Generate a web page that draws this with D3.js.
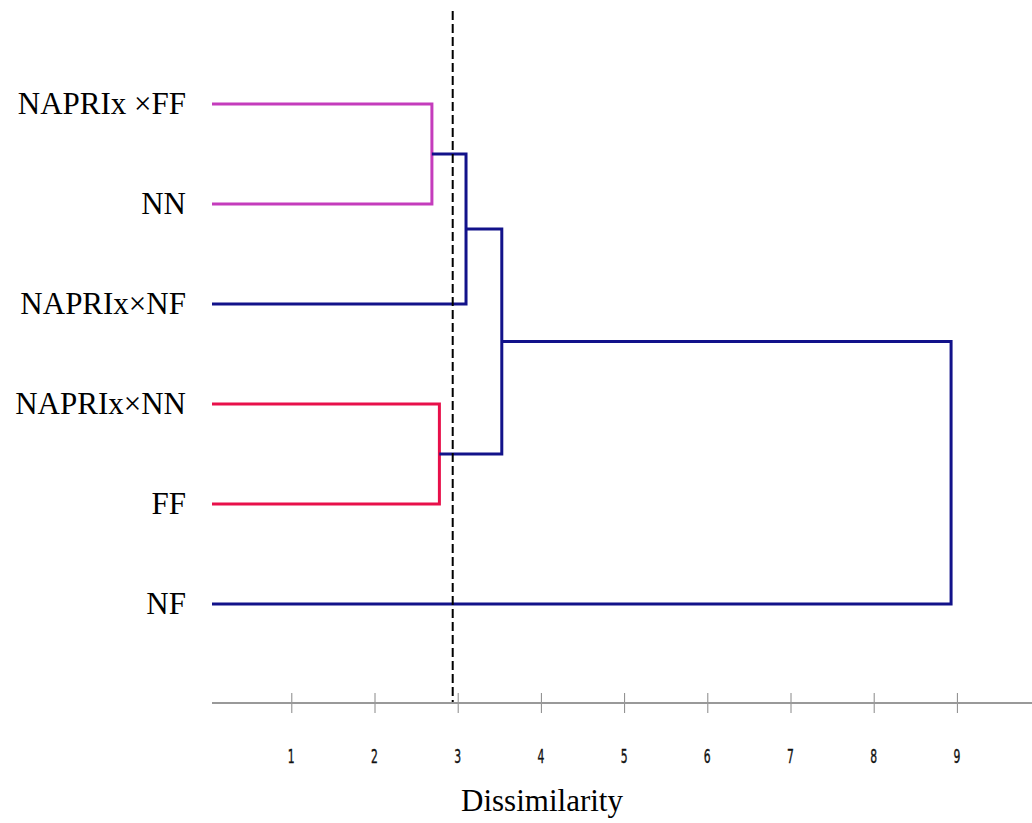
<!DOCTYPE html>
<html>
<head>
<meta charset="utf-8">
<script src="https://cdn.jsdelivr.net/npm/d3@7"></script>
<style>
  body { margin: 0; background: #fff; }
  .ticklab { font-family: "DejaVu Sans Condensed", "DejaVu Sans", sans-serif; font-size: 20px; fill: #111; }
</style>
</head>
<body>
<div id="chart"></div>
<script>
// Leaves, top to bottom
const leaves = ['NAPRIx \u00d7FF', 'NN', 'NAPRIx\u00d7NF', 'NAPRIx\u00d7NN', 'FF', 'NF'];
// Merges: [child a, child b, dissimilarity, cluster]; node ids 0-5 are leaves, 6+ are merges
const merges = [
  [0, 1, 2.69, 'pink'],
  [6, 2, 3.10, 'navy'],
  [3, 4, 2.78, 'red'],
  [7, 8, 3.53, 'navy'],
  [9, 5, 8.93, 'navy']
];
const cutOff = 2.94;
const tickValues = [1, 2, 3, 4, 5, 6, 7, 8, 9];
const axisTitle = 'Dissimilarity';

const colours = { pink: '#c43cbc', red: '#e8104a', navy: '#12128a' };

const width = 1032, height = 823;

const svg = d3.select('#chart')
  .append('svg')
  .attr('width', width)
  .attr('height', height);

const x = d3.scaleLinear().domain([0, 10]).range([208.1, 1040.1]);
const y = d3.scalePoint().domain(d3.range(leaves.length)).range([104, 604]);

// Build node positions (leaves start just right of the labels)
const leafStart = 212;
const nodes = leaves.map((d, i) => ({ px: leafStart, py: y(i) }));
merges.forEach(m => {
  const a = nodes[m[0]], b = nodes[m[1]];
  nodes.push({ px: x(m[2]), py: (a.py + b.py) / 2 });
});

// Axis: ticks cross the line, labels drawn in a narrow face
const axisY = 703;
const axis = svg.append('g')
  .attr('transform', `translate(0, ${axisY})`)
  .call(d3.axisBottom(x).tickValues(tickValues).tickSize(10).tickSizeOuter(0).tickFormat(''));
axis.select('.domain').remove();
axis.selectAll('.tick line')
  .attr('y1', -10).attr('y2', 10)
  .attr('stroke', '#888').attr('stroke-width', 1);
axis.append('line')
  .attr('x1', 212).attr('x2', 1032)
  .attr('y1', 0).attr('y2', 0)
  .attr('stroke', '#999').attr('stroke-width', 2);

svg.append('g')
  .selectAll('text')
  .data(tickValues)
  .enter()
  .append('text')
  .attr('class', 'ticklab')
  .attr('transform', d => `translate(${x(d)}, ${axisY + 60}) scale(0.6, 1)`)
  .attr('text-anchor', 'middle')
  .attr('stroke', '#111')
  .attr('stroke-width', 0.4)
  .text(d => d);

// Dendrogram links
svg.append('g')
  .selectAll('path')
  .data(merges)
  .enter()
  .append('path')
  .attr('d', m => {
    const a = nodes[m[0]], b = nodes[m[1]], mx = x(m[2]);
    return `M${a.px},${a.py}H${mx}V${b.py}H${b.px}`;
  })
  .attr('fill', 'none')
  .attr('stroke', m => colours[m[3]])
  .attr('stroke-width', 3);

// Cut-off line
svg.append('line')
  .attr('x1', x(cutOff)).attr('x2', x(cutOff))
  .attr('y1', 11).attr('y2', 702)
  .attr('stroke', '#000')
  .attr('stroke-width', 2)
  .attr('stroke-dasharray', '9,4');

// Leaf labels
svg.append('g')
  .selectAll('text')
  .data(leaves)
  .enter()
  .append('text')
  .attr('x', 186)
  .attr('y', (d, i) => y(i))
  .attr('dy', '0.32em')
  .attr('text-anchor', 'end')
  .style('font-family', '"Liberation Serif", "Times New Roman", serif')
  .style('font-size', '31px')
  .attr('fill', '#000')
  .text(d => d);

// Axis title
svg.append('text')
  .attr('x', 542)
  .attr('y', 811)
  .attr('text-anchor', 'middle')
  .style('font-family', '"Liberation Serif", "Times New Roman", serif')
  .style('font-size', '31px')
  .attr('fill', '#000')
  .text(axisTitle);
</script>
</body>
</html>
